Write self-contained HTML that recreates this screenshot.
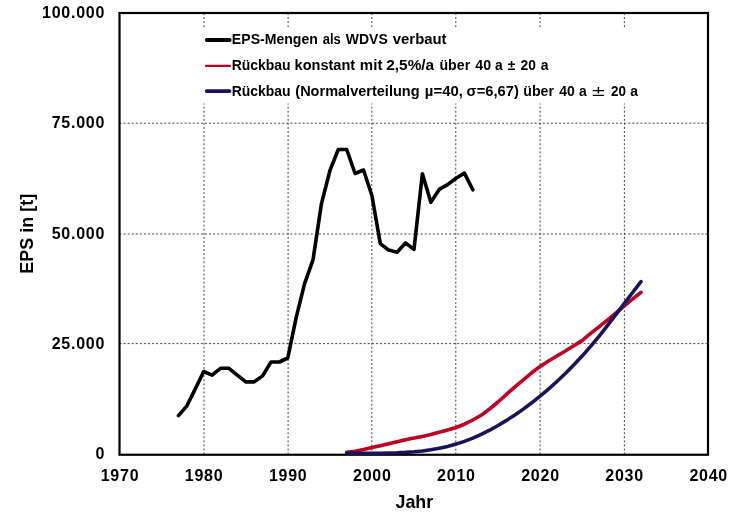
<!DOCTYPE html>
<html lang="de"><head><meta charset="utf-8"><title>EPS-Mengen</title>
<style>
html,body{margin:0;padding:0;background:#fff;}
body{width:737px;height:531px;overflow:hidden;}
svg{display:block;will-change:transform;}
text{font-family:"Liberation Sans", sans-serif;font-weight:bold;fill:#000;}
.tick{font-size:16px;letter-spacing:0.75px;}
.leg{font-size:13.9px;}
.pm{font-family:"DejaVu Sans",sans-serif;font-weight:normal;font-size:14.5px;}
.ttl{font-size:18.6px;}
.grid line{stroke:#3c3c3c;stroke-width:0.95;stroke-dasharray:2 2.07;}
</style></head><body>
<svg width="737" height="531" viewBox="0 0 737 531">
<rect width="737" height="531" fill="#fff"/>
<g class="grid">
<line x1="204.0" y1="13.0" x2="204.0" y2="454.75"/>
<line x1="288.1" y1="13.0" x2="288.1" y2="454.75"/>
<line x1="371.8" y1="13.0" x2="371.8" y2="454.75"/>
<line x1="455.8" y1="13.0" x2="455.8" y2="454.75"/>
<line x1="540.1" y1="13.0" x2="540.1" y2="454.75"/>
<line x1="624.4" y1="13.0" x2="624.4" y2="454.75"/>
<line x1="119.5" y1="123.2" x2="708.0" y2="123.2"/>
<line x1="119.5" y1="234.0" x2="708.0" y2="234.0"/>
<line x1="119.5" y1="343.6" x2="708.0" y2="343.6"/>
</g>
<rect x="200" y="27.8" width="446" height="75.7" fill="#fff"/>
<g>
<line x1="206.8" y1="40" x2="229.6" y2="40" stroke="#000" stroke-width="3.9" stroke-linecap="round"/>
<line x1="206" y1="65.9" x2="230" y2="65.9" stroke="#c00020" stroke-width="2.2" stroke-linecap="round"/>
<line x1="206.7" y1="91.1" x2="229.5" y2="91.1" stroke="#18145a" stroke-width="3.9" stroke-linecap="round"/>
</g>
<text class="leg" y="43.9"><tspan x="231.86" textLength="86.05" lengthAdjust="spacingAndGlyphs">EPS-Mengen</tspan> <tspan x="322.83" textLength="17.96" lengthAdjust="spacingAndGlyphs">als</tspan> <tspan x="345.83" textLength="41.96" lengthAdjust="spacingAndGlyphs">WDVS</tspan> <tspan x="392.77" textLength="53.81" lengthAdjust="spacingAndGlyphs">verbaut</tspan></text>
<text class="leg" y="69.5"><tspan x="231.70" textLength="58.93" lengthAdjust="spacingAndGlyphs">Rückbau</tspan> <tspan x="294.59" textLength="60.58" lengthAdjust="spacingAndGlyphs">konstant</tspan> <tspan x="359.89" textLength="22.55" lengthAdjust="spacingAndGlyphs">mit</tspan> <tspan x="386.31" textLength="47.84" lengthAdjust="spacingAndGlyphs">2,5%/a</tspan> <tspan x="439.47" textLength="30.70" lengthAdjust="spacingAndGlyphs">über</tspan> <tspan x="475.30" textLength="15.77" lengthAdjust="spacingAndGlyphs">40</tspan> <tspan x="494.99">a</tspan> <tspan x="507.79">±</tspan> <tspan x="520.62" textLength="15.35" lengthAdjust="spacingAndGlyphs">20</tspan> <tspan x="540.87">a</tspan></text>
<text class="leg" y="95.6"><tspan x="231.70" textLength="58.93" lengthAdjust="spacingAndGlyphs">Rückbau</tspan> <tspan x="295.30" textLength="124.26" lengthAdjust="spacingAndGlyphs">(Normalverteilung</tspan> <tspan x="424.88" textLength="37.98" lengthAdjust="spacingAndGlyphs">µ=40,</tspan> <tspan x="466.61" textLength="52.22" lengthAdjust="spacingAndGlyphs">σ=6,67)</tspan> <tspan x="523.30" textLength="30.71" lengthAdjust="spacingAndGlyphs">über</tspan> <tspan x="559.23" textLength="15.55" lengthAdjust="spacingAndGlyphs">40</tspan> <tspan x="578.97">a</tspan> <tspan class="pm" x="590.77" textLength="15.26" lengthAdjust="spacingAndGlyphs">±</tspan> <tspan x="610.94" textLength="14.95" lengthAdjust="spacingAndGlyphs">20</tspan> <tspan x="630.23">a</tspan></text>
<rect x="119.5" y="13.0" width="588.5" height="441.75" fill="none" stroke="#000" stroke-width="2.2"/>
<polyline fill="none" stroke="#000" stroke-width="3.6" stroke-linejoin="round" stroke-linecap="round" points="178.5,415.6 186.9,405.8 195.3,388.9 203.7,371.5 212.1,375.2 220.5,368.3 228.9,368.3 237.3,375.2 245.8,381.9 254.2,381.9 262.6,375.9 271.0,362.0 279.4,362.0 287.8,358.0 296.2,317.4 304.6,283.6 313.0,259.9 321.4,203.9 329.9,170.7 338.3,149.5 346.7,149.5 355.1,173.5 363.5,170.0 371.9,195.5 380.3,243.6 388.7,250.1 397.1,252.2 405.5,242.9 414.0,249.4 422.4,173.8 430.8,202.3 439.2,189.4 447.6,184.6 456.0,178.2 464.4,173.1 472.8,189.8"/>
<polyline fill="none" stroke="#c00020" stroke-width="3.6" stroke-linejoin="round" stroke-linecap="round" points="346.7,452.3 355.1,451.2 363.5,449.6 371.9,447.6 380.3,445.7 388.7,443.7 397.1,441.7 405.5,439.8 414.0,438.1 422.4,436.4 430.8,434.4 439.2,432.2 447.6,429.9 456.0,427.5 464.4,424.2 472.8,420.0 481.2,415.2 489.6,409.0 498.0,402.0 506.5,394.4 514.9,386.9 523.3,379.9 531.7,372.8 540.1,366.4 548.5,361.1 556.9,356.0 565.3,351.0 573.7,345.7 582.1,340.6 590.6,333.4 599.0,326.9 607.4,320.1 615.8,313.1 624.2,306.2 632.6,299.0 641.0,292.4"/>
<polyline fill="none" stroke="#18145a" stroke-width="3.6" stroke-linejoin="round" stroke-linecap="round" points="346.7,453.3 355.1,453.3 363.5,453.3 371.9,453.2 380.3,453.2 388.7,453.0 397.1,452.8 405.5,452.4 414.0,451.8 422.4,451.0 430.8,449.8 439.2,448.3 447.6,446.4 456.0,444.1 464.4,441.4 472.8,438.1 481.2,434.4 489.6,430.2 498.0,425.5 506.5,420.4 514.9,415.0 523.3,409.1 531.7,402.8 540.1,396.2 548.5,389.1 556.9,381.5 565.3,373.5 573.7,365.0 582.1,356.1 590.6,346.4 599.0,336.3 607.4,325.7 615.8,314.7 624.2,303.6 632.6,292.5 641.0,281.6"/>
<text class="tick" x="105.1" y="17.6" text-anchor="end">100.000</text>
<text class="tick" x="105.1" y="127.8" text-anchor="end">75.000</text>
<text class="tick" x="105.1" y="238.6" text-anchor="end">50.000</text>
<text class="tick" x="105.1" y="348.8" text-anchor="end">25.000</text>
<text class="tick" x="105.1" y="459.3" text-anchor="end">0</text>
<text class="tick" x="120.0" y="480.6" text-anchor="middle">1970</text>
<text class="tick" x="204.1" y="480.6" text-anchor="middle">1980</text>
<text class="tick" x="288.2" y="480.6" text-anchor="middle">1990</text>
<text class="tick" x="372.3" y="480.6" text-anchor="middle">2000</text>
<text class="tick" x="456.4" y="480.6" text-anchor="middle">2010</text>
<text class="tick" x="540.5" y="480.6" text-anchor="middle">2020</text>
<text class="tick" x="624.6" y="480.6" text-anchor="middle">2030</text>
<text class="tick" x="708.7" y="480.6" text-anchor="middle">2040</text>
<text class="ttl" x="414.3" y="507.8" text-anchor="middle" textLength="37.6" lengthAdjust="spacingAndGlyphs">Jahr</text>
<text class="ttl" transform="translate(33.4 233.8) rotate(-90)" text-anchor="middle" textLength="79.8" lengthAdjust="spacingAndGlyphs">EPS in [t]</text>
</svg></body></html>
